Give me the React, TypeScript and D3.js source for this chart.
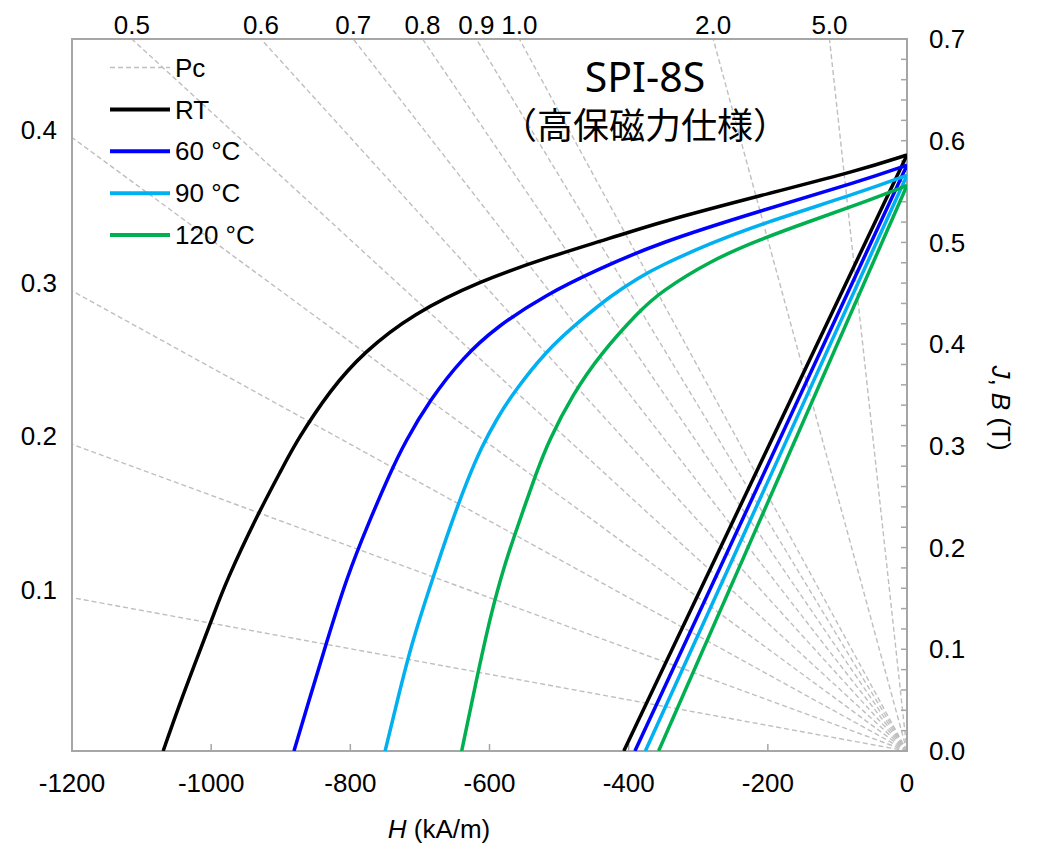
import * as d3 from 'd3'

// demagnetization curves, H in kA/m, J / B in T
const pcValues = [0.1, 0.2, 0.3, 0.4, 0.5, 0.6, 0.7, 0.8, 0.9, 1.0, 2.0, 5.0]

const seriesNames = ['RT', '60 °C', '90 °C', '120 °C']
const seriesColors = ['#000000', '#0000FF', '#00B0F0', '#00B050']

const jH_RT = [-1069, -1045, -1016, -997, -979, -933, -897, -877, -829, -781, -710, -614, -518, -422, -355, -211, -68, 0]
const jJ_RT = [0, 0.047, 0.099, 0.133, 0.166, 0.233, 0.279, 0.305, 0.355, 0.392, 0.43, 0.462, 0.485, 0.505, 0.52, 0.546, 0.571, 0.586]

const jH_60 = [-881, -861, -835, -805, -774, -743, -722, -686, -638, -590, -518, -446, -355, -211, -68, 0]
const jJ_60 = [0, 0.046, 0.105, 0.171, 0.224, 0.273, 0.303, 0.345, 0.387, 0.417, 0.449, 0.473, 0.5, 0.531, 0.56, 0.576]

const jH_90 = [-750, -733, -712, -681, -656, -632, -612, -590, -566, -518, -470, -425, -384, -355, -283, -211, -68, 0]
const jJ_90 = [0, 0.048, 0.106, 0.171, 0.222, 0.266, 0.298, 0.326, 0.352, 0.394, 0.423, 0.448, 0.466, 0.477, 0.499, 0.518, 0.549, 0.566]

const jH_120 = [-640, -620, -599, -579, -558, -533, -515, -480, -441, -384, -355, -283, -211, -139, -68, 0]
const jJ_120 = [0, 0.066, 0.132, 0.182, 0.224, 0.273, 0.305, 0.351, 0.39, 0.433, 0.451, 0.482, 0.503, 0.521, 0.538, 0.556]

const bH_RT = [-407, 0]
const bB_RT = [0, 0.586]
const bH_60 = [-391, 0]
const bB_60 = [0, 0.576]
const bH_90 = [-376, 0]
const bB_90 = [0, 0.566]
const bH_120 = [-357, 0]
const bB_120 = [0, 0.556]

const xTicks = [-1200, -1000, -800, -600, -400, -200, 0]
const yTicks = [0, 0.1, 0.2, 0.3, 0.4, 0.5, 0.6, 0.7]

const MU0 = 4 * Math.PI * 1e-4 // T per kA/m

const W = 1040
const H = 862
const margin = { top: 39, right: 133, bottom: 111, left: 72 }
const font = '"Liberation Sans", Arial, sans-serif'
const fs = 26
const axisGray = '#A6A6A6'
const pcGray = '#BFBFBF'

type Pt = [number, number]
const zip = (a: number[], b: number[]): Pt[] => a.map((v, i) => [v, b[i]])

const jCurves = [zip(jH_RT, jJ_RT), zip(jH_60, jJ_60), zip(jH_90, jJ_90), zip(jH_120, jJ_120)]
const bLines = [zip(bH_RT, bB_RT), zip(bH_60, bB_60), zip(bH_90, bB_90), zip(bH_120, bB_120)]

export default function App() {
  const x = d3.scaleLinear().domain([-1200, 0]).range([margin.left, W - margin.right])
  const y = d3.scaleLinear().domain([0, 0.7]).range([H - margin.bottom, margin.top])
  const [x0, x1] = x.range()
  const [y0, y1] = y.range()

  // read-off points are a little noisy, a B-spline smooths them like the measured trace
  const curve = d3
    .line<Pt>()
    .x(d => x(d[0]))
    .y(d => y(d[1]))
    .curve(d3.curveBasis)
  const straight = d3
    .line<Pt>()
    .x(d => x(d[0]))
    .y(d => y(d[1]))

  // Pc load lines: B = -Pc * mu0 * H, from origin to plot edge
  const pcLines = pcValues.map(pc => {
    const m = pc * MU0
    const hTop = -0.7 / m
    const end: Pt = hTop >= -1200 ? [hTop, 0.7] : [-1200, 1200 * m]
    return { pc, end, top: hTop >= -1200 }
  })

  const minorTicks = d3.range(0, 0.7001, 0.02)
  const legendY = (i: number) => 67.5 + i * 41.9

  return (
    <svg
      width={W}
      height={H}
      style={{ position: 'absolute', left: 0, top: 0, background: '#fff' }}
      fontFamily={font}
    >
      <defs>
        <clipPath id="plot">
          <rect x={x0} y={y1} width={x1 - x0} height={y0 - y1} />
        </clipPath>
      </defs>

      {/* Pc lines */}
      <g clipPath="url(#plot)">
        {pcLines.map(p => (
          <line
            key={p.pc}
            x1={x(0)}
            y1={y(0)}
            x2={x(p.end[0])}
            y2={y(p.end[1])}
            stroke={pcGray}
            strokeWidth={1.4}
            strokeDasharray="5,3"
          />
        ))}
      </g>

      {/* Pc labels */}
      {pcLines.map(p =>
        p.top ? (
          <text key={p.pc} x={x(p.end[0])} y={34} textAnchor="middle" fontSize={fs}>
            {p.pc.toFixed(1)}
          </text>
        ) : (
          <text key={p.pc} x={57} y={y(p.end[1]) - 8} dy="0.35em" textAnchor="end" fontSize={fs}>
            {p.pc.toFixed(1)}
          </text>
        )
      )}

      {/* frame */}
      <rect x={x0} y={y1} width={x1 - x0} height={y0 - y1} fill="none" stroke={axisGray} strokeWidth={2} />

      {/* ticks */}
      {xTicks.map(t => (
        <line key={t} x1={x(t)} x2={x(t)} y1={y0} y2={y0 - 7} stroke={axisGray} strokeWidth={1.5} />
      ))}
      {minorTicks.map(t => (
        <line key={t} x1={x1} x2={x1 - 6} y1={y(t)} y2={y(t)} stroke={axisGray} strokeWidth={1.5} />
      ))}

      {/* B lines and J curves */}
      <g clipPath="url(#plot)">
        {bLines.map((d, i) => (
          <path key={i} d={straight(d) ?? ''} fill="none" stroke={seriesColors[i]} strokeWidth={3.5} />
        ))}
        {jCurves.map((d, i) => (
          <path key={i} d={curve(d) ?? ''} fill="none" stroke={seriesColors[i]} strokeWidth={3.5} />
        ))}
      </g>

      {/* x tick labels */}
      {xTicks.map(t => (
        <text key={t} x={x(t)} y={792} textAnchor="middle" fontSize={fs}>
          {t}
        </text>
      ))}
      {/* y tick labels */}
      {yTicks.map(t => (
        <text key={t} x={929} y={y(t)} dy="0.35em" fontSize={fs}>
          {t.toFixed(1)}
        </text>
      ))}

      {/* axis titles */}
      <text x={439} y={838} textAnchor="middle" fontSize={fs}>
        <tspan fontStyle="italic">H</tspan> (kA/m)
      </text>
      <text transform="translate(1001,408) rotate(90)" textAnchor="middle" dy="0.35em" fontSize={fs}>
        <tspan fontStyle="italic">J</tspan>, <tspan fontStyle="italic">B</tspan> (T)
      </text>

      {/* title */}
      <text x={645} y={92} textAnchor="middle" fontSize={41} fontFamily='"Noto Sans", sans-serif'>
        SPI-8S
      </text>
      <text x={645} y={139} textAnchor="middle" fontSize={36} fontFamily='"Noto Sans CJK JP", sans-serif'>
        （高保磁力仕様）
      </text>

      {/* legend */}
      <g>
        <line x1={110} x2={170} y1={legendY(0)} y2={legendY(0)} stroke={pcGray} strokeWidth={1.5} strokeDasharray="5,3" />
        <text x={175} y={legendY(0)} dy="0.35em" fontSize={fs}>
          Pc
        </text>
        {seriesNames.map((n, i) => (
          <g key={n}>
            <line x1={110} x2={170} y1={legendY(i + 1)} y2={legendY(i + 1)} stroke={seriesColors[i]} strokeWidth={4} />
            <text x={175} y={legendY(i + 1)} dy="0.35em" fontSize={fs}>
              {n}
            </text>
          </g>
        ))}
      </g>
    </svg>
  )
}
